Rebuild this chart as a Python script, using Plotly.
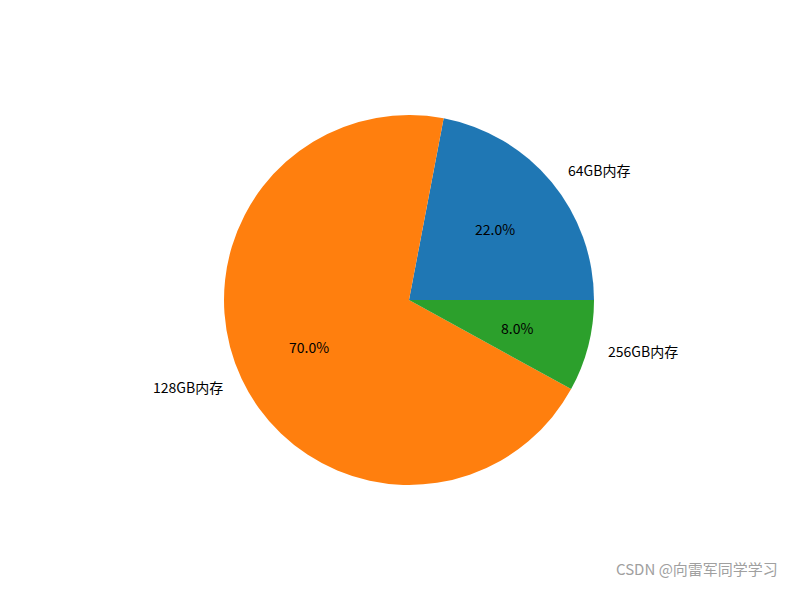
import math
import plotly.graph_objects as go

labels = ["64GB内存", "128GB内存", "256GB内存"]
values = [22, 70, 8]
colors = ["#1f77b4", "#ff7f0e", "#2ca02c"]

OFF = 8  # page body margin
W, H = 797 - 2 * OFF, 589 - 2 * OFF
cx, cy, R = 409 - OFF, 300 - OFF, 185  # pie centre/radius in figure pixels

total = sum(values)
# plotly (counterclockwise) starts its first slice at rotation + first slice angle
rot = 90 - 360 * values[0] / total

fig = go.Figure(go.Pie(
    labels=labels, values=values, sort=False,
    direction="counterclockwise", rotation=rot,
    marker=dict(colors=colors, line=dict(width=0)),
    textinfo="none", hoverinfo="label+percent",
    domain=dict(x=[(cx - R) / W, (cx + R) / W], y=[(H - cy - R) / H, (H - cy + R) / H]),
    showlegend=False,
))

font = "SimHei, Noto Sans CJK SC, sans-serif"
start = 0.0
anns = []
for lab, v in zip(labels, values):
    frac = v / total
    mid = 2 * math.pi * (start + frac / 2)
    start += frac
    c, s = math.cos(mid), math.sin(mid)
    lx = (cx + 1.1 * R * c) / W
    ly = (H - cy + 1.1 * R * s) / H
    anns.append(dict(x=lx, y=ly, xref="paper", yref="paper", text=lab, showarrow=False,
                     xanchor="left" if c >= 0 else "right", yanchor="middle",
                     font=dict(family=font, size=14, color="#000")))
    px = (cx + 0.6 * R * c) / W
    py = (H - cy + 0.6 * R * s) / H
    anns.append(dict(x=px, y=py, xref="paper", yref="paper", text=f"{100 * frac:.1f}%",
                     showarrow=False, xanchor="center", yanchor="middle",
                     font=dict(family=font, size=14, color="#000")))

anns.append(dict(x=(780 - OFF) / W, y=0.0, xref="paper", yref="paper",
                 text="CSDN @向雷军同学学习", showarrow=False, xanchor="right", yanchor="bottom",
                 font=dict(family="Noto Sans CJK SC, sans-serif", size=15, color="#a0a0a0")))

fig.update_layout(width=W, height=H, margin=dict(l=0, r=0, t=0, b=0),
                  paper_bgcolor="white", plot_bgcolor="white", annotations=anns)
fig.write_html("out.html")
